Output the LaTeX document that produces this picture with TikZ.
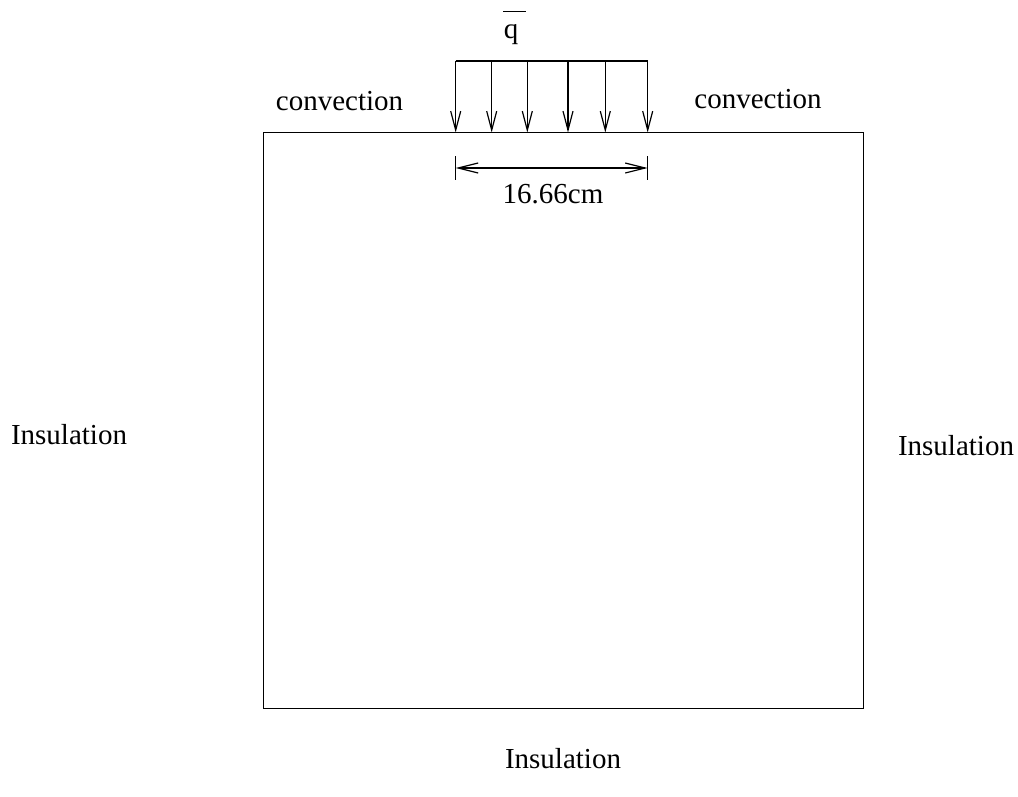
\documentclass[tikz,border=0pt]{standalone}
\usepackage{fontspec}
\setmainfont{Liberation Serif}
\usetikzlibrary{arrows.meta}

\begin{document}
\begin{tikzpicture}[x=1pt, y=-1pt, line width=1.2pt,
  lbl/.style = {font=\fontsize{29}{34}\selectfont, inner sep=0pt, anchor=base},
  flux/.style = {-{Straight Barb[length=19pt,width=10pt]}},
  dim/.style = {{Straight Barb[length=20pt,width=10pt]}-{Straight Barb[length=20pt,width=10pt]}}]
\useasboundingbox (0,0) rectangle (1018,796);
% domain
\node[draw, anchor=north west, minimum width=600pt, minimum height=576pt, inner sep=0pt, outer sep=0pt] (plate) at (263.5,132.5) {};
% heat flux on top
\foreach \x [count=\i] in {455.7,491.7,527.3,568,605.3,647.7} {
  \coordinate (f\i) at (\x,61);
  \draw[flux] (f\i) -- (f\i |- plate.north);
}
\draw (f1) -- (f6);
\node[lbl] (qlabel) at (511,38) {q};
\draw ([yshift=12pt]qlabel.north west) -- ++(23,0);
% width of flux zone
\coordinate (d1) at (455.7,168);
\coordinate (d2) at (647.7,168);
\draw ([yshift=12pt]d1) -- ([yshift=-12pt]d1);
\draw ([yshift=12pt]d2) -- ([yshift=-12pt]d2);
\draw[dim] (d1) -- (d2);
\node[lbl] (width) at (553,203) {16.66cm};
% boundary conditions
\node[lbl] (convl) at (339.5,110) {convection};
\node[lbl] (convr) at (758,108) {convection};
\node[lbl] (insl) at (69,444) {Insulation};
\node[lbl] (insr) at (956,455.7) {Insulation};
\node[lbl] (insb) at (563,768) {Insulation};
\end{tikzpicture}
\end{document}
